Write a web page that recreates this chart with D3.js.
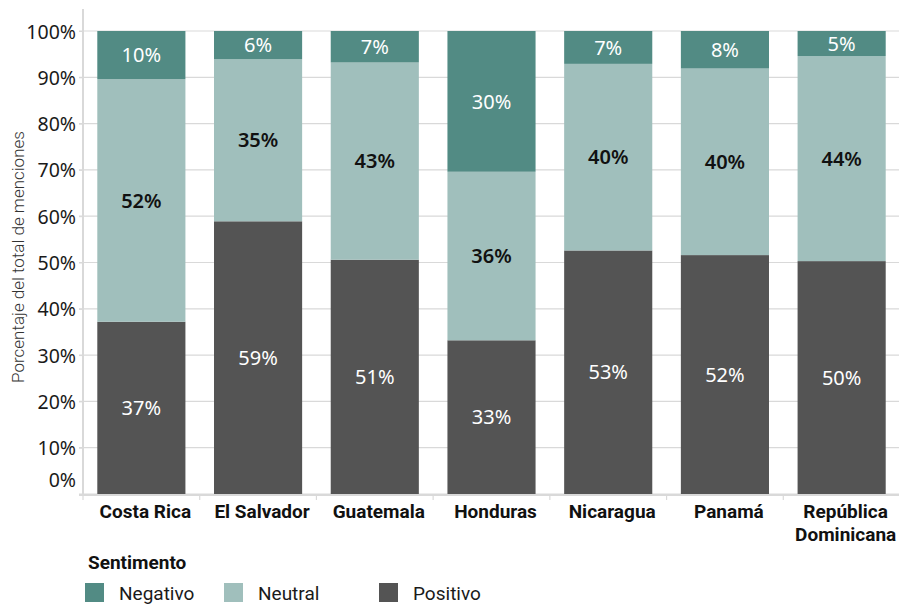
<!DOCTYPE html>
<html><head><meta charset="utf-8">
<script src="https://cdn.jsdelivr.net/npm/d3@7"></script>
<style>
html,body{margin:0;padding:0;background:#fff;}
svg{display:block;font-family:Roboto, "Liberation Sans", sans-serif;}
</style></head>
<body><svg id="chart" width="899" height="604"></svg>
<script>
const countries = ["Costa Rica","El Salvador","Guatemala","Honduras","Nicaragua","Panamá","República Dominicana"];
const countryLines = [["Costa Rica"],["El Salvador"],["Guatemala"],["Honduras"],["Nicaragua"],["Panamá"],["República","Dominicana"]];
const sentiments = ["Positivo","Neutral","Negativo"];
const positivo = [37.2, 58.9, 50.6, 33.2, 52.6, 51.6, 50.3];
const neutral  = [52.4, 35.0, 42.6, 36.4, 40.3, 40.3, 44.3];
const negativo = [10.4, 6.1, 6.8, 30.4, 7.1, 8.1, 5.4];
const yTicks = [0,10,20,30,40,50,60,70,80,90,100];
const legendOrder = ["Negativo","Neutral","Positivo"];

const colors = {Negativo:"#528b84", Neutral:"#a0bfbc", Positivo:"#545454"};
const labelColors = {Negativo:"#ffffff", Neutral:"#111111", Positivo:"#ffffff"};
const labelWeights = {Negativo:"400", Neutral:"600", Positivo:"400"};
const numFont = "'Noto Sans', 'Open Sans', sans-serif";

const rows = countries.map((c,i)=>({country:c, Positivo:positivo[i], Neutral:neutral[i], Negativo:negativo[i]}));
const stack = d3.stack().keys(sentiments)(rows);

const svg = d3.select("#chart");
const x = d3.scaleBand().domain(countries).range([83,900]).paddingInner(0.245).paddingOuter(0.1225);
const y = d3.scaleLinear().domain([0,100]).range([494,31]);
const grid = "#d9d9d9";

// gridlines
svg.append("g").selectAll("line").data(yTicks).join("line")
  .attr("x1",79).attr("x2",899).attr("y1",d=>y(d)).attr("y2",d=>y(d))
  .attr("stroke",grid).attr("stroke-width",1.2);

// y axis
const yAxis = svg.append("g").attr("transform","translate(83,0)")
  .call(d3.axisLeft(y).tickValues(yTicks).tickFormat(d=>d+"%").tickSize(4).tickPadding(3));
yAxis.select(".domain").attr("stroke",grid).attr("stroke-width",2).attr("d","M0,9V496");
yAxis.selectAll(".tick line").attr("stroke",grid);
yAxis.selectAll(".tick text").attr("font-size",19.5).attr("fill","#1a1a1a")
  .attr("font-family",numFont)
  .attr("dy",d=>d===0?"-0.38em":"0.36em");

// bars
const layers = svg.append("g").selectAll("g").data(stack).join("g")
  .attr("fill",d=>colors[d.key]);
layers.selectAll("rect").data(d=>d).join("rect")
  .attr("x",d=>x(d.data.country)).attr("width",x.bandwidth())
  .attr("y",d=>y(d[1])).attr("height",d=>y(d[0])-y(d[1]));

// labels
stack.forEach(layer=>{
  svg.append("g").selectAll("text").data(layer).join("text")
    .attr("x",d=>x(d.data.country)+x.bandwidth()/2)
    .attr("y",d=>(y(d[0])+y(d[1]))/2)
    .attr("dy","0.36em")
    .attr("text-anchor","middle")
    .attr("font-family",numFont)
    .attr("font-size",20)
    .attr("font-weight",labelWeights[layer.key])
    .attr("fill",labelColors[layer.key])
    .text(d=>Math.round(d[1]-d[0])+"%");
});

// x axis
const xAxis = svg.append("g").attr("transform","translate(0,495)")
  .call(d3.axisBottom(x).tickSize(0).tickFormat(""));
xAxis.select(".domain").attr("stroke",grid).attr("stroke-width",2).attr("d","M79,0H900");
svg.append("g").selectAll("line").data(countries).join("line")
  .attr("x1",d=>x(d)-x.step()*x.paddingInner()/2).attr("x2",d=>x(d)-x.step()*x.paddingInner()/2)
  .attr("y1",495).attr("y2",500).attr("stroke",grid).attr("stroke-width",1.2);
const xl = svg.append("g").selectAll("text").data(countries).join("text")
  .attr("x",d=>x(d)+x.bandwidth()/2+4).attr("y",518)
  .attr("text-anchor","middle").attr("font-size",19).attr("font-weight","700").attr("fill","#111");
xl.each(function(d,i){
  const t = d3.select(this);
  countryLines[i].forEach((ln,j)=>{
    t.append("tspan").attr("x",x(d)+x.bandwidth()/2+4).attr("dy",j===0?0:23).text(ln);
  });
});

// y title
svg.append("text").attr("transform","translate(24,257) rotate(-90)")
  .attr("text-anchor","middle").attr("font-size",17).attr("font-weight","300").attr("fill","#333")
  .text("Porcentaje del total de menciones");

// legend
svg.append("text").attr("x",88).attr("y",569).attr("font-size",19).attr("font-weight","700").attr("fill","#111").text("Sentimento");
const legendX = [85, 224, 379];
const lg = svg.append("g").selectAll("g").data(legendOrder).join("g")
  .attr("transform",(d,i)=>`translate(${legendX[i]},0)`);
lg.append("rect").attr("x",0).attr("y",583).attr("width",19).attr("height",19).attr("fill",d=>colors[d]);
lg.append("text").attr("x",34).attr("y",600).attr("font-size",19).attr("fill","#1a1a1a").text(d=>d);
</script></body></html>
